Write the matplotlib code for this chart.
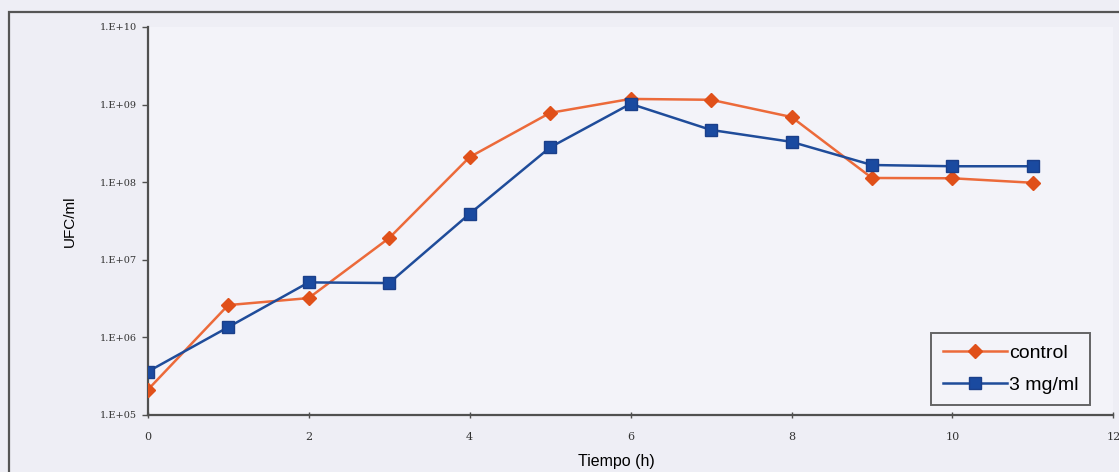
import matplotlib
matplotlib.use("Agg")
import matplotlib.pyplot as plt
from matplotlib.patches import Rectangle
from matplotlib.ticker import FixedLocator, FixedFormatter

# ── data ──────────────────────────────────────────────────────────────────
hours = [0, 1, 2, 3, 4, 5, 6, 7, 8, 9, 10, 11]
control = [2.1e5, 2.6e6, 3.2e6, 1.9e7, 2.1e8, 7.8e8, 1.18e9, 1.15e9, 6.9e8, 1.13e8, 1.12e8, 9.8e7]
dose_3mg = [3.6e5, 1.35e6, 5.1e6, 5.0e6, 3.9e7, 2.8e8, 1.02e9, 4.7e8, 3.3e8, 1.66e8, 1.6e8, 1.6e8]

y_ticks = [1e5, 1e6, 1e7, 1e8, 1e9, 1e10]
y_labels = ["1.E+05", "1.E+06", "1.E+07", "1.E+08", "1.E+09", "1.E+10"]
x_ticks = [0, 2, 4, 6, 8, 10, 12]

# ── figure ────────────────────────────────────────────────────────────────
fig = plt.figure(figsize=(11.19, 4.72), dpi=100, facecolor="#eeeef5")
ax = fig.add_axes([0.132, 0.121, 0.863, 0.822])
ax.set_facecolor("#f3f3f9")

ax.plot(hours, control, "-", color="#ec6a3a", lw=1.8, marker="D", ms=7,
        mfc="#e0501a", mec="#e0501a", label="control", zorder=3)
ax.plot(hours, dose_3mg, "-", color="#1f4c9a", lw=1.8, marker="s", ms=8.5,
        mfc="#1a4aa0", mec="#1a3f8a", label="3 mg/ml", zorder=4)

ax.set_yscale("log")
ax.set_ylim(1e5, 1e10)
ax.set_xlim(0, 12)
ax.yaxis.set_major_locator(FixedLocator(y_ticks))
ax.yaxis.set_major_formatter(FixedFormatter(y_labels))
ax.yaxis.set_minor_locator(FixedLocator([]))
ax.set_xticks(x_ticks)

for s in ["top", "right"]:
    ax.spines[s].set_visible(False)
for s in ["left", "bottom"]:
    ax.spines[s].set_color("#505050")
    ax.spines[s].set_linewidth(1.6)

ax.tick_params(axis="y", direction="out", length=4, width=1, color="#505050",
               labelsize=7, labelcolor="#333333", pad=4)
ax.tick_params(axis="x", direction="inout", length=5, width=1, color="#505050",
               labelsize=8, labelcolor="#333333", pad=10)
for t in ax.get_yticklabels() + ax.get_xticklabels():
    t.set_family("DejaVu Serif")

ax.set_ylabel("UFC/ml", fontsize=11, family="Liberation Sans", labelpad=16)
ax.set_xlabel("Tiempo (h)", fontsize=11.5, family="Liberation Sans")
ax.xaxis.set_label_coords(0.485, -0.10)

leg = ax.legend(loc="lower right", bbox_to_anchor=(0.98, 0.015),
                prop={"family": "Liberation Sans", "size": 14},
                frameon=True, fancybox=False, handlelength=3.3,
                handletextpad=0.1, borderpad=0.6, labelspacing=0.7,
                borderaxespad=0.2)
leg.get_frame().set_edgecolor("#404040")
leg.get_frame().set_linewidth(1.4)
leg.get_frame().set_facecolor("#f4f4fa")

# outer chart frame
fig.patches.append(Rectangle((0.008, -0.05), 1.2, 1.025, transform=fig.transFigure,
                             fill=False, edgecolor="#555555", lw=1.6))

fig.savefig("out.png", dpi=100, facecolor=fig.get_facecolor())
